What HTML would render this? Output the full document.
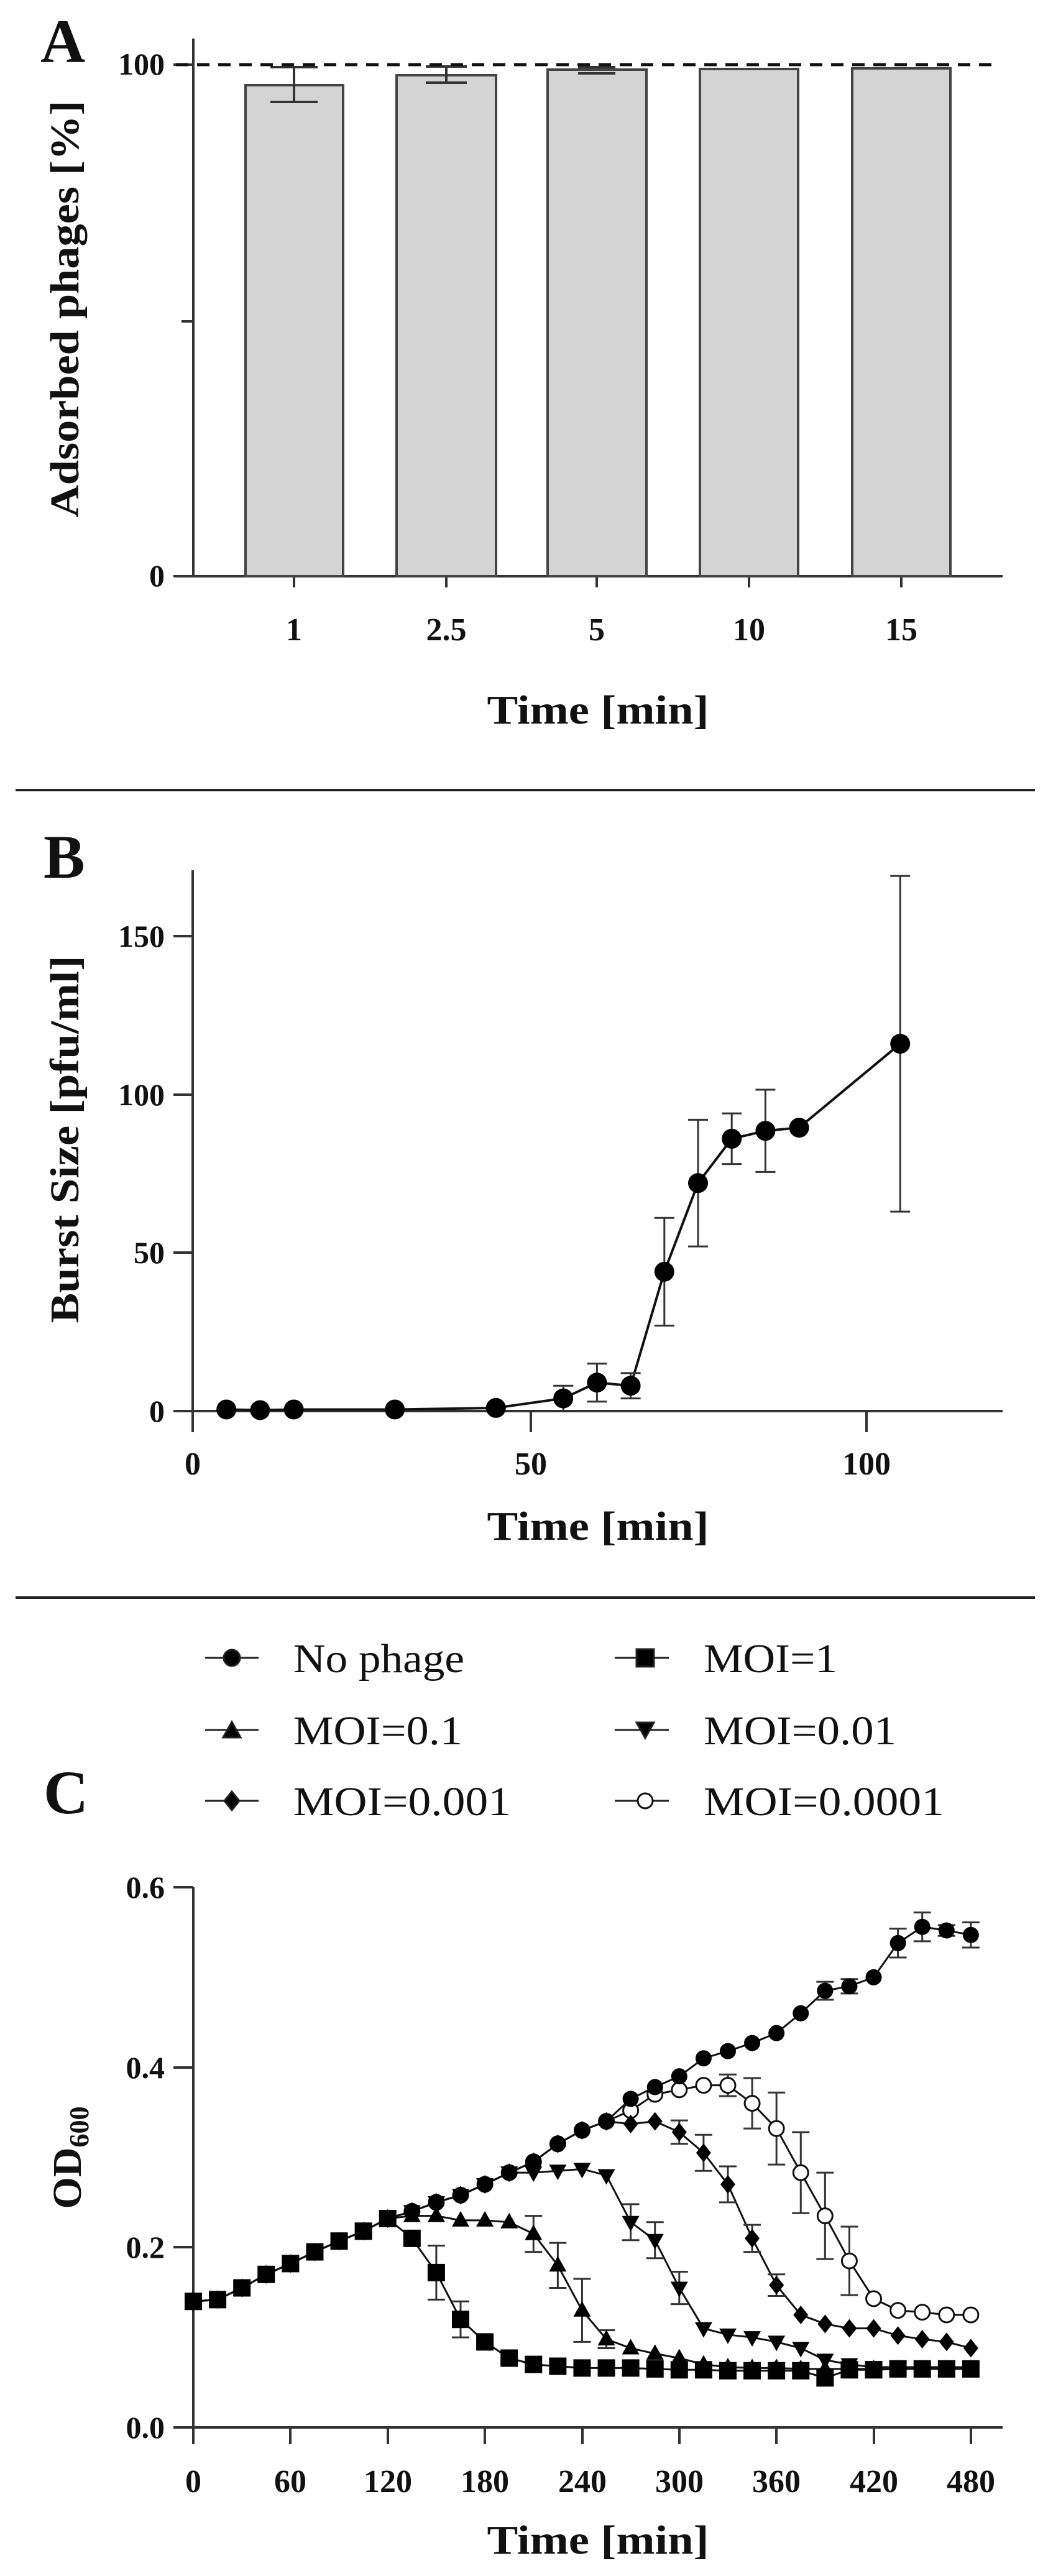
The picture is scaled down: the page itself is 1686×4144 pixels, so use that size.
<!DOCTYPE html>
<html><head><meta charset="utf-8"><style>
html,body{margin:0;padding:0;background:#fff;}
svg{display:block;}
text{font-family:"Liberation Serif",serif;fill:#111;}
.b{font-weight:bold;}
</style></head><body>
<svg id="s" width="1686" height="4144" viewBox="0 0 1686 4144" xmlns="http://www.w3.org/2000/svg">
<g stroke="#333" stroke-width="4" fill="none">
<line x1="311" y1="62" x2="311" y2="927"/>
<line x1="279" y1="927" x2="1613" y2="927"/>
<line x1="279" y1="104" x2="311" y2="104"/>
<line x1="292" y1="517" x2="311" y2="517"/>
<line x1="473" y1="927" x2="473" y2="945"/>
<line x1="718" y1="927" x2="718" y2="945"/>
<line x1="960" y1="927" x2="960" y2="945"/>
<line x1="1205" y1="927" x2="1205" y2="945"/>
<line x1="1450" y1="927" x2="1450" y2="945"/>
</g>
<g fill="#d4d4d4" stroke="#444" stroke-width="4">
<rect x="395" y="137" width="157" height="790"/>
<rect x="638" y="121" width="160" height="806"/>
<rect x="881" y="112" width="159" height="815"/>
<rect x="1126" y="111" width="158" height="816"/>
<rect x="1371" y="110" width="158" height="817"/>
</g>
<g stroke="#333" stroke-width="4">
<line x1="473" y1="108" x2="473" y2="164"/><line x1="435" y1="108" x2="511" y2="108"/><line x1="435" y1="164" x2="511" y2="164"/>
<line x1="718" y1="107" x2="718" y2="133"/><line x1="685" y1="107" x2="751" y2="107"/><line x1="685" y1="133" x2="751" y2="133"/>
<line x1="930" y1="108" x2="990" y2="108"/><line x1="930" y1="118" x2="990" y2="118"/>
</g>
<line x1="283" y1="104" x2="1595" y2="104" stroke="#111" stroke-width="5" stroke-dasharray="20,14"/>
<text x="65" y="100" class="b" font-size="100">A</text>
<text x="265" y="120" class="b" font-size="50" text-anchor="end">100</text>
<text x="265" y="943" class="b" font-size="50" text-anchor="end">0</text>
<g class="b" font-size="52" text-anchor="middle">
<text x="473" y="1030">1</text><text x="718" y="1030">2.5</text><text x="960" y="1030">5</text><text x="1205" y="1030">10</text><text x="1450" y="1030">15</text>
</g>
<text x="962" y="1164" class="b" font-size="66" text-anchor="middle" textLength="357" lengthAdjust="spacingAndGlyphs">Time [min]</text>
<text transform="translate(126,497) rotate(-90)" class="b" font-size="66" text-anchor="middle" textLength="671" lengthAdjust="spacingAndGlyphs">Adsorbed phages [%]</text>
<line x1="25" y1="1271" x2="1665" y2="1271" stroke="#222" stroke-width="4"/>

<g stroke="#333" stroke-width="4" fill="none">
<line x1="310" y1="1400" x2="310" y2="2304"/>
<line x1="279" y1="2270" x2="1613" y2="2270"/>
<line x1="279" y1="1506" x2="310" y2="1506"/>
<line x1="279" y1="1761" x2="310" y2="1761"/>
<line x1="279" y1="2015" x2="310" y2="2015"/>
<line x1="854" y1="2270" x2="854" y2="2304"/>
<line x1="1394" y1="2270" x2="1394" y2="2304"/>
</g>
<g id="gb"></g>
<text x="70" y="1412" class="b" font-size="100">B</text>
<g class="b" font-size="50" text-anchor="end">
<text x="265" y="1523">150</text><text x="265" y="1778">100</text><text x="265" y="2032">50</text><text x="265" y="2287">0</text>
</g>
<g class="b" font-size="52" text-anchor="middle">
<text x="310" y="2372">0</text><text x="854" y="2372">50</text><text x="1394" y="2372">100</text>
</g>
<text x="962" y="2477" class="b" font-size="66" text-anchor="middle" textLength="357" lengthAdjust="spacingAndGlyphs">Time [min]</text>
<text transform="translate(126,1833) rotate(-90)" class="b" font-size="66" text-anchor="middle" textLength="591" lengthAdjust="spacingAndGlyphs">Burst Size [pfu/ml]</text>
<line x1="25" y1="2570" x2="1665" y2="2570" stroke="#222" stroke-width="4"/>

<g font-size="66">
<text x="472" y="2690" textLength="275" lengthAdjust="spacingAndGlyphs">No phage</text>
<text x="1132" y="2690" textLength="215" lengthAdjust="spacingAndGlyphs">MOI=1</text>
<text x="472" y="2806" textLength="272" lengthAdjust="spacingAndGlyphs">MOI=0.1</text>
<text x="1132" y="2806" textLength="310" lengthAdjust="spacingAndGlyphs">MOI=0.01</text>
<text x="472" y="2920" textLength="350" lengthAdjust="spacingAndGlyphs">MOI=0.001</text>
<text x="1132" y="2920" textLength="387" lengthAdjust="spacingAndGlyphs">MOI=0.0001</text>
</g>
<g id="leg" stroke="#222" stroke-width="3">
<line x1="330" y1="2667" x2="416" y2="2667"/><line x1="989" y1="2667" x2="1076" y2="2667"/>
<line x1="330" y1="2783" x2="416" y2="2783"/><line x1="989" y1="2783" x2="1076" y2="2783"/>
<line x1="330" y1="2897" x2="416" y2="2897"/><line x1="989" y1="2897" x2="1076" y2="2897"/>
</g>
<text x="70" y="2917" class="b" font-size="100">C</text>
<g stroke="#333" stroke-width="4" fill="none">
<line x1="311" y1="3036" x2="311" y2="3932"/>
<line x1="279" y1="3905" x2="1613" y2="3905"/>
<line x1="279" y1="3036" x2="311" y2="3036"/>
<line x1="279" y1="3326" x2="311" y2="3326"/>
<line x1="279" y1="3615" x2="311" y2="3615"/>
<line x1="279" y1="3905" x2="311" y2="3905"/>
<line x1="467" y1="3905" x2="467" y2="3932"/>
<line x1="624" y1="3905" x2="624" y2="3932"/>
<line x1="780" y1="3905" x2="780" y2="3932"/>
<line x1="937" y1="3905" x2="937" y2="3932"/>
<line x1="1093" y1="3905" x2="1093" y2="3932"/>
<line x1="1249" y1="3905" x2="1249" y2="3932"/>
<line x1="1406" y1="3905" x2="1406" y2="3932"/>
<line x1="1562" y1="3905" x2="1562" y2="3932"/>
</g>
<g class="b" font-size="50" text-anchor="end">
<text x="265" y="3053">0.6</text><text x="265" y="3343">0.4</text><text x="265" y="3632">0.2</text><text x="265" y="3922">0.0</text>
</g>
<g class="b" font-size="52" text-anchor="middle">
<text x="311" y="4009">0</text><text x="467" y="4009">60</text><text x="624" y="4009">120</text><text x="780" y="4009">180</text><text x="937" y="4009">240</text><text x="1093" y="4009">300</text><text x="1249" y="4009">360</text><text x="1406" y="4009">420</text><text x="1562" y="4009">480</text>
</g>
<text x="962" y="4108" class="b" font-size="66" text-anchor="middle" textLength="357" lengthAdjust="spacingAndGlyphs">Time [min]</text>
<text transform="translate(130,3471) rotate(-90)" class="b" font-size="66" text-anchor="middle">OD<tspan font-size="44" dy="12">600</tspan></text>
<g id="gc"></g>
</svg>
<script>
var NS="http://www.w3.org/2000/svg";
function el(p,t,a){var e=document.createElementNS(NS,t);for(var k in a)e.setAttribute(k,a[k]);p.appendChild(e);return e;}
var gb=document.getElementById("gb");
var bd=[[5,0.5],[10,0.3],[15,0.5],[30,0.5],[45,1],[55,4,4],[60,9,6],[65,8,4],[70,44,17],[75,72,20],[80,86,8],[85,88.5,13],[90,89.5,0],[105,116,53]];
function bx(t){return 310+t*10.84;} function by(v){return 2270-v*5.094;}
var p="";bd.forEach(function(d,i){p+=(i?"L":"M")+bx(d[0])+" "+by(d[1]);});
el(gb,"path",{d:p,fill:"none",stroke:"#111","stroke-width":4});
bd.forEach(function(d){if(d[2]){var x=bx(d[0]);el(gb,"path",{d:"M"+x+" "+by(d[1]-d[2])+"V"+by(d[1]+d[2])+"M"+(x-16)+" "+by(d[1]-d[2])+"h32M"+(x-16)+" "+by(d[1]+d[2])+"h32",stroke:"#333","stroke-width":3,fill:"none"});}});
bd.forEach(function(d){el(gb,"circle",{cx:bx(d[0]),cy:by(d[1]),r:16,fill:"#000"});});
var gc=document.getElementById("gc");
function cx(t){return 311+t*2.606;} function cy(v){return 3905-v*1448.3;}
var np=[0.14,0.142,0.155,0.17,0.182,0.195,0.207,0.218,0.232,0.24,0.25,0.258,0.27,0.283,0.295,0.315,0.33,0.34,0.365,0.378,0.39,0.41,0.418,0.427,0.438,0.46,0.485,0.49,0.5,0.538,0.556,0.552,0.547];
function mk(start,tail){var a=np.slice(0,start);return a.concat(tail);}
var s1=mk(9,[0.21,0.172,0.12,0.095,0.077,0.07,0.068,0.066,0.066,0.066,0.065,0.064,0.064,0.063,0.063,0.063,0.063,0.055,0.064,0.064,0.065,0.065,0.065,0.065]);
var s2=mk(9,[0.235,0.235,0.23,0.23,0.228,0.215,0.18,0.13,0.098,0.088,0.082,0.077,0.07,0.067,0.066,0.066,0.065,0.065,0.065,0.065,0.065,0.065,0.065,0.065]);
var s3=mk(14,[0.283,0.285,0.287,0.28,0.228,0.208,0.155,0.11,0.103,0.1,0.095,0.088,0.075,0.07,0.067,0.067,0.067,0.067,0.067]);
var s4=mk(18,[0.337,0.34,0.328,0.305,0.27,0.21,0.158,0.125,0.115,0.11,0.11,0.102,0.098,0.095,0.088]);
var s5=mk(18,[0.352,0.37,0.375,0.38,0.38,0.36,0.332,0.283,0.235,0.185,0.143,0.13,0.128,0.125,0.125]);
var errs={0:{435:0.016,450:0.016,465:0.006,480:0.014,390:0.01,405:0.008},1:{150:0.03,165:0.02},2:{210:0.02,225:0.025,240:0.035,255:0.01},3:{270:0.02,285:0.02,300:0.018},4:{300:0.013,315:0.02,330:0.02,345:0.015,360:0.012},5:{330:0.012,345:0.028,360:0.04,375:0.045,390:0.048,405:0.038}};
var series=[[np,"c"],[s1,"s"],[s2,"u"],[s3,"d"],[s4,"m"],[s5,"o"]];
function marker(g,type,x,y){
 if(type=="c")el(g,"circle",{cx:x,cy:y,r:13,fill:"#000"});
 else if(type=="o")el(g,"circle",{cx:x,cy:y,r:12,fill:"#fff",stroke:"#111","stroke-width":3});
 else if(type=="s")el(g,"rect",{x:x-14,y:y-14,width:28,height:28,fill:"#000"});
 else if(type=="u")el(g,"path",{d:"M"+x+" "+(y-15)+"L"+(x+14)+" "+(y+10)+"L"+(x-14)+" "+(y+10)+"Z",fill:"#000"});
 else if(type=="d")el(g,"path",{d:"M"+x+" "+(y+15)+"L"+(x+14)+" "+(y-10)+"L"+(x-14)+" "+(y-10)+"Z",fill:"#000"});
 else if(type=="m")el(g,"path",{d:"M"+x+" "+(y-15)+"L"+(x+12)+" "+y+"L"+x+" "+(y+15)+"L"+(x-12)+" "+y+"Z",fill:"#000"});
}
series.forEach(function(s,i){var d="";s[0].forEach(function(v,j){d+=(j?"L":"M")+cx(j*15)+" "+cy(v);});
 el(gc,"path",{d:d,fill:"none",stroke:"#111","stroke-width":3});
 var e=errs[i];for(var t in e){var j=t/15,v=s[0][j],x=cx(+t);el(gc,"path",{d:"M"+x+" "+cy(v-e[t])+"V"+cy(v+e[t])+"M"+(x-14)+" "+cy(v-e[t])+"h28M"+(x-14)+" "+cy(v+e[t])+"h28",stroke:"#333","stroke-width":3,fill:"none"});}
});
[5,4,3,2,1,0].forEach(function(i){var s=series[i];s[0].forEach(function(v,j){marker(gc,s[1],cx(j*15),cy(v));});});
var leg=document.getElementById("leg");
marker(leg,"c",373,2667);marker(leg,"s",1038,2667);marker(leg,"u",373,2785);marker(leg,"d",1038,2781);marker(leg,"m",373,2897);marker(leg,"o",1038,2897);
</script>
</body></html>
